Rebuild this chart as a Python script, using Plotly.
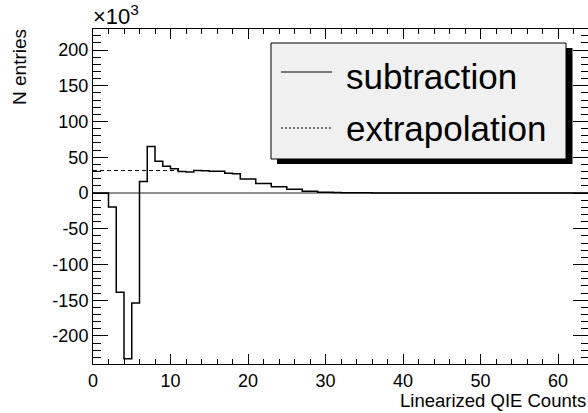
import numpy as np
import plotly.graph_objects as go

# ---- data (units of 10^3 entries) ----
bin_edges_start = 0
bin_width = 1
n_bins = 64
subtraction = [0, 0, -19.5, -139, -232, -154, 16, 65, 44.5, 37.5, 34, 30, 29.5, 31.5,
               31, 30.5, 30.5, 27.5, 27, 19.6, 19.6, 13.3, 13.3, 8.8, 8.8, 5.4, 5.4,
               2.5, 2.5, 1.2, 1.2, 0.6, 0.5, 0.3, 0.2, 0.2, 0.1, 0.1, 0.1, 0.1,
               0.05, 0.05, 0.05, 0.05, 0, 0, 0, 0, 0, 0, 0, 0, 0, 0, 0, 0, 0, 0,
               0, 0, 0, 0, 0, 0]
extrapolation_level = 31.5
extrapolation_x = [0, 11]
legend_labels = ["subtraction", "extrapolation"]
x_title = "Linearized QIE Counts"
y_title = "N entries"
y_tick_values = [-200, -150, -100, -50, 0, 50, 100, 150, 200]
y_tick_labels = ["-200", "-150", "-100", "-50", "0", "50", "100", "150", "200"]
x_tick_values = [0, 10, 20, 30, 40, 50, 60]
x_tick_labels = ["0", "10", "20", "30", "40", "50", "60"]

edges = np.arange(bin_edges_start, bin_edges_start + bin_width * (n_bins + 1), bin_width)
y_step = list(subtraction) + [subtraction[-1]]

W, H = 588, 413
L, R, T, B = 93, 588, 29, 364
def px(x):
    return (x - L) / (R - L)
def py(y):
    return (B - y) / (B - T)

FONT = "Liberation Sans, Arial, Helvetica, sans-serif"

fig = go.Figure()
fig.add_trace(go.Scatter(x=extrapolation_x, y=[extrapolation_level] * 2, mode="lines",
                         line=dict(color="black", width=1, dash="4px,3px"),
                         showlegend=False, hoverinfo="skip"))
fig.add_trace(go.Scatter(x=edges, y=y_step, mode="lines", line_shape="hv",
                         line=dict(color="black", width=1.5),
                         showlegend=False, cliponaxis=True))

shapes = [
    dict(type="line", xref="x", yref="y", x0=0, x1=64, y0=0, y1=0,
         line=dict(color="#222", width=1), layer="below"),
    # legend shadow
    dict(type="rect", xref="paper", yref="paper", x0=px(277), x1=px(572.5), y0=py(164), y1=py(48),
         fillcolor="black", line=dict(width=0)),
    # legend box
    dict(type="rect", xref="paper", yref="paper", x0=px(271), x1=px(566), y0=py(159), y1=py(43),
         fillcolor="#f0f0f0", line=dict(color="black", width=1)),
    dict(type="line", xref="paper", yref="paper", x0=px(281), x1=px(332), y0=py(72), y1=py(72),
         line=dict(color="black", width=1)),
    dict(type="line", xref="paper", yref="paper", x0=px(281), x1=px(332), y0=py(128), y1=py(128),
         line=dict(color="black", width=1, dash="2px,2px")),
]

annotations = [
    dict(text=legend_labels[0], xref="paper", yref="paper", x=px(344), y=py(76),
         xanchor="left", yanchor="middle", showarrow=False, font=dict(family=FONT, size=35, color="black")),
    dict(text=legend_labels[1], xref="paper", yref="paper", x=px(344), y=py(128),
         xanchor="left", yanchor="middle", showarrow=False, font=dict(family=FONT, size=35, color="black")),
    dict(text=x_title, xref="paper", yref="paper", x=px(588), y=py(400),
         xanchor="right", yanchor="middle", showarrow=False, font=dict(family=FONT, size=18.5, color="black")),
    dict(text=y_title, xref="paper", yref="paper", x=px(20), y=py(67), textangle=-90,
         xanchor="center", yanchor="middle", showarrow=False, font=dict(family=FONT, size=19, color="black")),
    dict(text="×10<sup>3</sup>", xref="paper", yref="paper", x=px(91), y=py(15),
         xanchor="left", yanchor="middle", showarrow=False, font=dict(family=FONT, size=22, color="black")),
]

fig.update_layout(
    width=W, height=H, autosize=False,
    margin=dict(l=L, r=W - R, t=T, b=H - B, pad=0),
    paper_bgcolor="white", plot_bgcolor="white",
    font=dict(family=FONT, size=18, color="black"),
    shapes=shapes, annotations=annotations, showlegend=False,
    xaxis=dict(range=[0, 63.87], showline=True, linecolor="black", linewidth=1, mirror="ticks",
               ticks="inside", ticklen=10, tickwidth=1, tickcolor="black",
               tickvals=x_tick_values, ticktext=x_tick_labels,
               minor=dict(ticks="inside", ticklen=5, dtick=2, tickcolor="black", tickwidth=1),
               showgrid=False, zeroline=False, tickfont=dict(size=18)),
    yaxis=dict(range=[-239.2, 229.4], showline=True, linecolor="black", linewidth=1, mirror="ticks",
               ticks="inside", ticklen=15, tickwidth=1, tickcolor="black",
               tickvals=y_tick_values, ticktext=y_tick_labels,
               minor=dict(ticks="inside", ticklen=7.5, dtick=10, tickcolor="black", tickwidth=1),
               showgrid=False, zeroline=False, tickfont=dict(size=18)),
)

fig.write_html("out.html")
